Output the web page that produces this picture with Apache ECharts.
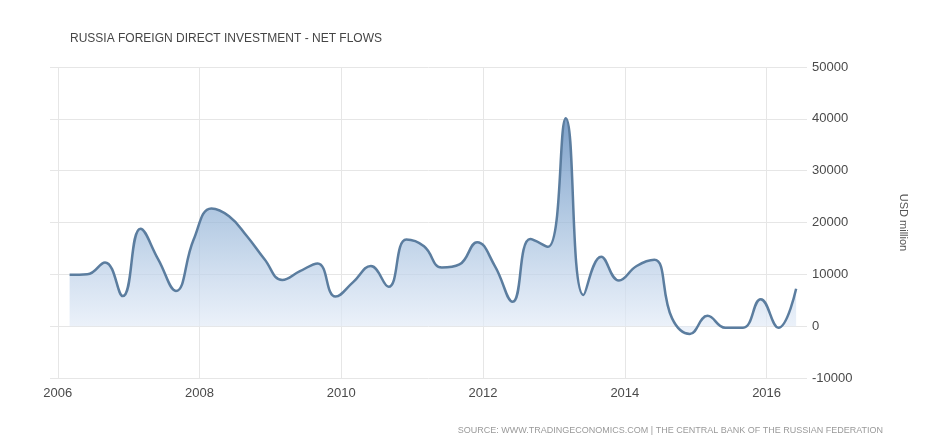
<!DOCTYPE html>
<html>
<head>
<meta charset="utf-8">
<script src="https://cdn.jsdelivr.net/npm/echarts@6/dist/echarts.min.js"></script>
<style>
html,body{margin:0;padding:0;background:#fff;}
#chart{width:951px;height:443px;}
</style>
</head>
<body>
<div id="chart"></div>
<script>
// Quarterly observations (plotted at the last month of each quarter)
const periods = [
  '2006-03','2006-06','2006-09','2006-12',
  '2007-03','2007-06','2007-09','2007-12',
  '2008-03','2008-06','2008-09','2008-12',
  '2009-03','2009-06','2009-09','2009-12',
  '2010-03','2010-06','2010-09','2010-12',
  '2011-03','2011-06','2011-09','2011-12',
  '2012-03','2012-06','2012-09','2012-12',
  '2013-03','2013-06','2013-09','2013-12',
  '2014-03','2014-06','2014-09','2014-12',
  '2015-03','2015-06','2015-09','2015-12',
  '2016-03','2016-06'
];
// Net FDI flows, USD million
const fdiValues = [
  9900, 10000, 12300, 5800,
  18800, 12900, 6800, 16700,
  22700, 21200, 17400, 12900,
  8900, 10600, 12100, 5700,
  8500, 11600, 7600, 16700,
  15400, 11300, 11900, 16200,
  11600, 4700, 16800, 15300,
  40100, 6000, 13400, 8800,
  11600, 12800, 1500, -1500,
  2000, -300, -300, 5200,
  -300, 7200
];
const yearTicks = [2006, 2008, 2010, 2012, 2014, 2016];

const titleText = 'RUSSIA FOREIGN DIRECT INVESTMENT - NET FLOWS';
const sourceText = 'SOURCE: WWW.TRADINGECONOMICS.COM | THE CENTRAL BANK OF THE RUSSIAN FEDERATION';
const unitText = 'USD million';

function toYear(p) {
  const parts = p.split('-');
  return Number(parts[0]) + (Number(parts[1]) - 1) / 12;
}
const seriesData = periods.map((p, i) => [toYear(p), fdiValues[i]]);

const FONT = '"Liberation Sans", Arial, sans-serif';

const chart = echarts.init(document.getElementById('chart'), null, {renderer: 'canvas'});
chart.setOption({
  animation: false,
  backgroundColor: '#ffffff',
  title: {
    text: titleText,
    left: 65,
    top: 28,
    textStyle: {fontFamily: FONT, fontSize: 12, fontWeight: 'normal', color: '#454545'}
  },
  graphic: [{
    type: 'text',
    right: 68,
    top: 426,
    style: {text: sourceText, fontFamily: FONT, fontSize: 9, fill: '#9a9a9a'}
  }],
  grid: {left: 50, right: 144, top: 67, bottom: 65},
  xAxis: {
    type: 'value',
    min: 2005.89,
    max: 2016.57,
    axisLine: {show: false},
    axisTick: {show: false, customValues: yearTicks},
    axisLabel: {
      customValues: yearTicks,
      margin: 9,
      fontFamily: FONT, fontSize: 13, color: '#4a4a4a',
      formatter: v => String(Math.round(v))
    },
    splitLine: {show: true, lineStyle: {color: '#e6e6e6', width: 1}}
  },
  yAxis: {
    type: 'value',
    position: 'right',
    min: -10000,
    max: 50000,
    interval: 10000,
    axisLine: {show: false},
    axisTick: {show: false},
    axisLabel: {
      margin: 5, fontFamily: FONT, fontSize: 13, color: '#4a4a4a',
      formatter: v => String(v)
    },
    splitLine: {show: true, lineStyle: {color: '#e6e6e6', width: 1}},
    name: unitText,
    nameLocation: 'middle',
    nameRotate: -90,
    nameGap: 91,
    nameTextStyle: {fontFamily: FONT, fontSize: 11, color: '#555555'}
  },
  series: [{
    type: 'line',
    data: seriesData,
    smooth: 0.45,
    showSymbol: false,
    lineStyle: {color: '#5b7d9f', width: 2.5},
    areaStyle: {
      origin: 'auto',
      color: new echarts.graphic.LinearGradient(0, 0, 0, 1, [
        {offset: 0, color: 'rgb(70,120,178)'},
        {offset: 0.25, color: 'rgb(115,155,200)'},
        {offset: 0.5, color: 'rgb(155,185,218)'},
        {offset: 0.75, color: 'rgb(195,213,235)'},
        {offset: 1, color: 'rgb(232,239,249)'}
      ])
    }
  }]
});
</script>
</body>
</html>
